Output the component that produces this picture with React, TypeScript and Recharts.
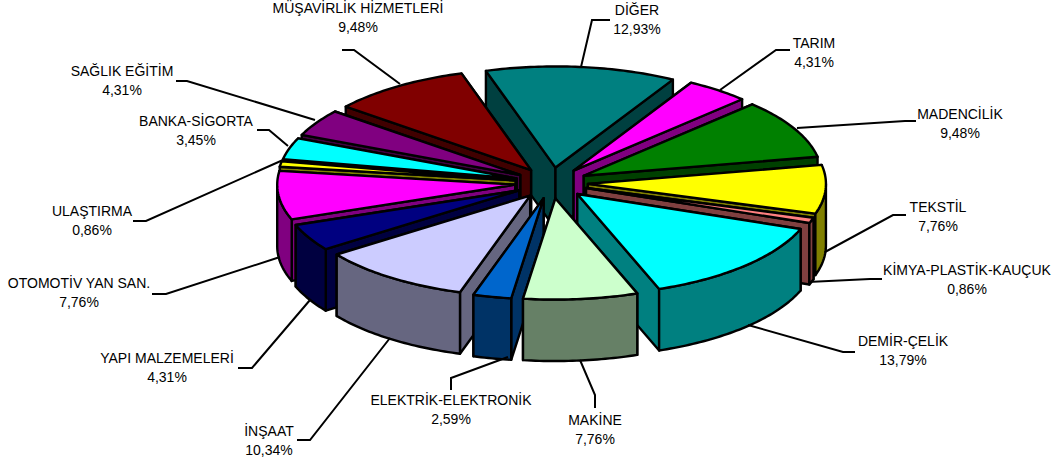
import React from "react";
import { PieChart, Pie } from "recharts";

const names = ["DİĞER","TARIM","MADENCİLİK","TEKSTİL","KİMYA-PLASTİK-KAUÇUK","DEMİR-ÇELİK","MAKİNE","ELEKTRİK-ELEKTRONİK","İNŞAAT","YAPI MALZEMELERİ","OTOMOTİV YAN SAN.","ULAŞTIRMA","BANKA-SİGORTA","SAĞLIK EĞİTİM","MÜŞAVİRLİK HİZMETLERİ"];
const percents = [12.93,4.31,9.48,7.76,0.86,13.79,7.76,2.59,10.34,4.31,7.76,0.86,3.45,4.31,9.48];
const percentLabels = ["12,93%","4,31%","9,48%","7,76%","0,86%","13,79%","7,76%","2,59%","10,34%","4,31%","7,76%","0,86%","3,45%","4,31%","9,48%"];
const topColors = ["#008080","#FF00FF","#008000","#FFFF00","#FF8080","#00FFFF","#CCFFCC","#0066CC","#CCCCFF","#000080","#FF00FF","#FFFF00","#00FFFF","#800080","#800000"];
const wallColors = ["#004040","#800080","#004000","#808000","#804040","#008080","#668066","#003366","#666680","#000040","#800080","#808000","#008080","#400040","#400000"];

// label layout: text centre x, first line y, leader polyline
const labelPos: [number, number][] = [[637,10],[814,43],[960,114],[938,207],[967,270],[903,341],[595,420],[451,400],[269,431],[167,358],[79,283],[92,211],[196,121],[122,71],[358,8]];
const leaders: number[][][] = [
  [[581,67],[592,20],[610,20]],
  [[720,90],[776,50],[790,50]],
  [[797,128],[905,121],[916,121]],
  [[825,252],[893,215],[906,215]],
  [[808,282],[870,279],[882,279]],
  [[748,325],[843,352],[855,352]],
  [[580,360],[595,395],[595,408]],
  [[508,357],[451,378],[451,390]],
  [[390,338],[310,440],[297,440]],
  [[310,300],[252,368],[238,368]],
  [[280,257],[166,294],[152,294]],
  [[283,160],[146,221],[133,221]],
  [[288,146],[269,130],[257,130]],
  [[315,120],[187,81],[176,81]],
  [[400,84],[354,50],[342,50]],
];

const data = names.map((name, i) => ({ name, value: percents[i], index: i }));

const CX = 551.5, CY = 183, R = 238, TILT = 0.425, EXPLODE = 36.5, DEPTH = 61.5;
const START = 107;

const Slice3D = (p: any) => {
  const i = p.payload?.index ?? p.index;
  const a0 = 90 - p.startAngle;
  const a1 = 90 - p.endAngle;
  const mid = ((a0 + a1) / 2) * Math.PI / 180;
  const ox = p.cx + EXPLODE * Math.sin(mid);
  const oy = p.cy - EXPLODE * TILT * Math.cos(mid);
  const r = p.outerRadius;
  const pt = (deg: number, dz = 0): [number, number] => [
    ox + r * Math.sin(deg * Math.PI / 180),
    oy - r * TILT * Math.cos(deg * Math.PI / 180) + dz,
  ];
  const arc: [number, number][] = [];
  const n = Math.max(2, Math.ceil(a1 - a0));
  for (let k = 0; k <= n; k++) arc.push(pt(a0 + ((a1 - a0) * k) / n));
  const s = (pts: number[][]) => pts.map((q) => q[0].toFixed(2) + "," + q[1].toFixed(2)).join(" ");
  const apex: [number, number] = [ox, oy];
  const apexD: [number, number] = [ox, oy + DEPTH];
  const wl = wallColors[i];
  const stroke = { stroke: "#000", strokeWidth: 2.4, strokeLinejoin: "round" as const };
  const f0 = Math.max(a0, 90), f1 = Math.min(a1, 270);
  const front: [number, number][] = [];
  if (f1 > f0) {
    const m = Math.max(2, Math.ceil(f1 - f0));
    for (let k = 0; k <= m; k++) front.push(pt(f0 + ((f1 - f0) * k) / m));
  }
  const frontD = front.map((q) => [q[0], q[1] + DEPTH]).reverse();
  // the radial face whose rim is higher on screen sits behind the other one
  const faces = [a0, a1].sort((u, v) => pt(u)[1] - pt(v)[1]);
  return (
    <g>
      {faces.map((deg) => (
        <polygon key={deg} points={s([apex, pt(deg), pt(deg, DEPTH), apexD])} fill={wl} {...stroke} />
      ))}
      {front.length > 0 && <polygon points={s([...front, ...frontD])} fill={wl} {...stroke} />}
      <polygon points={s([apex, ...arc])} fill={topColors[i]} {...stroke} />
    </g>
  );
};

const renderLabel = (p: any) => {
  const i = p.payload?.index ?? p.index;
  const [x, y] = labelPos[i];
  const pts = leaders[i].map((q) => q.join(",")).join(" ");
  const font = { fontFamily: "Liberation Sans, Arial, sans-serif", fontSize: 14, fill: "#000", textAnchor: "middle" as const, dominantBaseline: "central" as const };
  return (
    <g key={i}>
      <polyline points={pts} fill="none" stroke="#000" strokeWidth={2} />
      <text x={x} y={y} {...font}>{names[i]}</text>
      <text x={x} y={y + 19} {...font}>{percentLabels[i]}</text>
    </g>
  );
};

const paintOrder = data
  .map((d, i) => {
    const before = percents.slice(0, i).reduce((a, b) => a + b, 0);
    const total = percents.reduce((a, b) => a + b, 0);
    const mid = ((before + d.value / 2) / total) * 360 - (START - 90);
    return { i, depth: -Math.cos((mid * Math.PI) / 180) };
  })
  .sort((a, b) => a.depth - b.depth)
  .map((o) => o.i);

const pieProps = {
  data,
  dataKey: "value",
  nameKey: "name",
  cx: CX,
  cy: CY,
  innerRadius: 0,
  outerRadius: R,
  startAngle: START,
  endAngle: START - 360,
  paddingAngle: 0,
  isAnimationActive: false,
  stroke: "none",
  legendType: "none" as const,
};

export default function App() {
  return (
    <div style={{ position: "absolute", left: 0, top: 0, width: 1057, height: 468, background: "#fff" }}>
      <PieChart width={1057} height={468} margin={{ top: 0, right: 0, bottom: 0, left: 0 }}>
        {paintOrder.map((idx) => {
          const shape = (p: any) => ((p.payload?.index ?? p.index) === idx ? <Slice3D {...p} /> : <g />);
          return <Pie key={idx} {...pieProps} shape={shape} activeShape={shape} inactiveShape={shape} />;
        })}
        <Pie key="labels" {...pieProps} shape={() => <g />} activeShape={() => <g />} inactiveShape={() => <g />} label={renderLabel} labelLine={false} />
      </PieChart>
    </div>
  );
}
